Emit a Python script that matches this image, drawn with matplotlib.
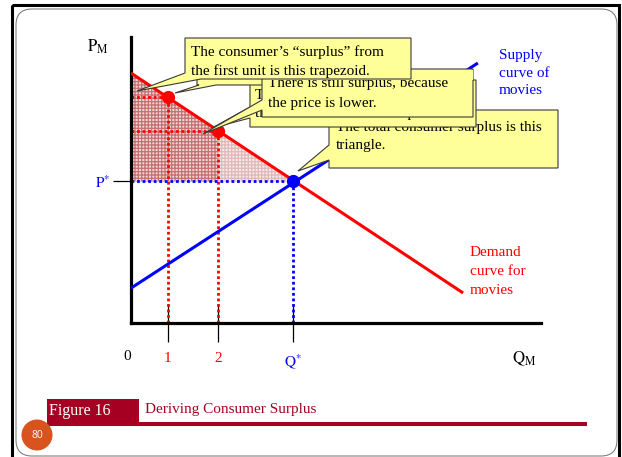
import matplotlib
matplotlib.use('Agg')
import matplotlib.pyplot as plt
import matplotlib.transforms as mtransforms
from matplotlib.patches import Polygon, Rectangle, FancyBboxPatch, Circle

plt.rcParams['font.family'] = ['Liberation Serif', 'DejaVu Serif']
plt.rcParams['mathtext.fontset'] = 'stix'
plt.rcParams['hatch.linewidth'] = 0.9

# ---------------- data (schematic values) ----------------
demand_q = [0.0, 8.10]
demand_p = [8.74, 1.05]
supply_q = [0.0, 8.46]
supply_p = [1.22, 9.09]
unit_q = [0.90, 2.12]          # first and second unit
unit_p = [7.89, 6.73]          # willingness to pay for each unit
eq_q = 3.95                    # Q*
eq_p = 4.95                    # P*
x_tick_labels = ['1', '2', r'$\mathrm{Q}^{*}$']
x_tick_colors = ['#ff0000', '#ff0000', '#0000ff']

W, H = 622, 457
fig = plt.figure(figsize=(W / 100, H / 100), dpi=100)
pix = mtransforms.Affine2D().scale(1 / W, -1 / H).translate(0, 1) + fig.transFigure

ax = fig.add_axes([131 / W, (H - 323) / H, 410 / W, 286 / H])
ax.set_xlim(0, 10)
ax.set_ylim(0, 10)
ax.patch.set_alpha(0)
for s in ['top', 'right']:
    ax.spines[s].set_visible(False)
for s in ['left', 'bottom']:
    ax.spines[s].set_linewidth(2.3)
    ax.spines[s].set_color('black')

RED = '#ff0000'
BLUE = '#0000ff'
FS = 11

# ---------------- slide frame ----------------
ax.add_patch(Rectangle((12, 5), 607, 460, transform=pix, clip_on=False,
                       fill=False, lw=2.2, ec='black', zorder=0))
ax.add_patch(FancyBboxPatch((16, 9), 601, 447, boxstyle='round,pad=0,rounding_size=16',
                            transform=pix, clip_on=False, fill=False, lw=0.8,
                            ec='#808080', zorder=0))

# ---------------- shaded consumer surplus ----------------
dark = [(demand_q[0], demand_p[0]), (unit_q[1], unit_p[1]), (unit_q[1], eq_p), (0, eq_p)]
light = [(unit_q[1], unit_p[1]), (eq_q, eq_p), (unit_q[1], eq_p)]
ax.add_patch(Polygon(dark, closed=True, facecolor='#f2d6d6', edgecolor='#c47070',
                     hatch='+++++', lw=0, zorder=1))
ax.add_patch(Polygon(light, closed=True, facecolor='#f8eaea', edgecolor='#e0b8b8',
                     hatch='+++++', lw=0, zorder=1))

# ---------------- dotted guide lines ----------------
dot = dict(lw=2.0, linestyle=(0, (1, 1)), zorder=2, dash_capstyle='butt')
for q, p in zip(unit_q, unit_p):
    ax.plot([0, q], [p, p], color=RED, **dot)
    ax.plot([q, q], [0, p], color=RED, **dot)
ax.plot([0, eq_q], [eq_p, eq_p], color=BLUE, **dot)
ax.plot([eq_q, eq_q], [0, eq_p], color=BLUE, **dot)

# ---------------- curves ----------------
ax.plot(supply_q, supply_p, color=BLUE, lw=2.2, zorder=3, solid_capstyle='butt')
ax.plot(demand_q, demand_p, color=RED, lw=2.2, zorder=3, solid_capstyle='butt')
ax.plot(unit_q, unit_p, 'o', color=RED, ms=8.5, zorder=4)
ax.plot([eq_q], [eq_p], 'o', color=BLUE, ms=8.5, zorder=4)

# ---------------- ticks ----------------
ax.set_xticks([unit_q[0], unit_q[1], eq_q])
ax.set_xticklabels(x_tick_labels, fontsize=FS)
for lbl, c in zip(ax.get_xticklabels(), x_tick_colors):
    lbl.set_color(c)
ax.tick_params(axis='x', direction='inout', length=28, width=0.9, pad=7)
ax.set_yticks([eq_p])
ax.set_yticklabels([r'$\mathrm{P}^{*}$'], fontsize=FS, color=BLUE)
ax.tick_params(axis='y', direction='out', length=13, width=0.9, pad=2)

ax.text(127, 357, '0', transform=pix, fontsize=FS, ha='center', va='center')
ax.text(98, 47, r'$\mathrm{P}_{\mathrm{M}}$', transform=pix, fontsize=FS + 1,
        ha='center', va='center')
ax.text(524, 359, r'$\mathrm{Q}_{\mathrm{M}}$', transform=pix, fontsize=FS + 1,
        ha='center', va='center')

# curve labels
for i, t in enumerate(['Supply', 'curve of', 'movies']):
    ax.text(499, 56 + 17.5 * i, t, transform=pix, fontsize=FS, color=BLUE,
            ha='left', va='center')
for i, t in enumerate(['Demand', 'curve for', 'movies']):
    ax.text(470, 253 + 18.5 * i, t, transform=pix, fontsize=FS, color=RED,
            ha='left', va='center')

# ---------------- callouts ----------------
YEL = '#ffff99'
EDGE = '#3a3a3a'


def callout(verts, z):
    ax.add_patch(Polygon(verts, closed=True, transform=pix, clip_on=False,
                         facecolor=YEL, edgecolor=EDGE, lw=0.8, zorder=z,
                         joinstyle='miter'))


def lines(x, y0, texts, z, dy=19):
    for i, t in enumerate(texts):
        ax.text(x, y0 + dy * i, t, transform=pix, fontsize=FS, ha='left',
                va='center', zorder=z, clip_on=False)


# D: total surplus (bottom)
callout([(329, 110), (558, 110), (558, 168), (329, 168), (329, 160), (298, 171),
         (329, 145)], 10)
lines(336, 127, ['The total consumer surplus is this', 'triangle.'], 11, dy=18)

# C: second unit (hidden behind B)
callout([(250, 80), (476, 80), (476, 127), (250, 127), (250, 118), (212, 128),
         (250, 107)], 12)
lines(255, 95, ['The consumer’s “surplus” from', 'the second unit is this trapezoid.'], 13)

# H: hidden box behind A
callout([(197, 42), (405, 42), (405, 85), (216, 85), (175, 93), (199, 85),
         (197, 85)], 14)

# B: still surplus
callout([(262, 69), (473, 69), (473, 117), (262, 117), (262, 110), (203, 134),
         (262, 100)], 16)
lines(268, 84, ['There is still surplus, because', 'the price is lower.'], 17)
ax.add_patch(Rectangle((262.6, 69.6), 210, 10.4, transform=pix, clip_on=False,
                       facecolor=YEL, lw=0, zorder=18))

# A: first unit (top)
callout([(185, 38), (411, 38), (411, 79), (201, 79), (137, 91), (185, 73)], 20)
lines(191, 52, ['The consumer’s “surplus” from', 'the first unit is this trapezoid.'], 21)

# ---------------- footer ----------------
ax.add_patch(Rectangle((47, 399), 92, 27, transform=pix, clip_on=False,
                       facecolor='#a50021', lw=0, zorder=5))
ax.add_patch(Rectangle((139, 422), 448, 4, transform=pix, clip_on=False,
                       facecolor='#a50021', lw=0, zorder=5))
ax.text(49, 411, 'Figure 16', transform=pix, fontsize=FS + 0.5, color='white',
        ha='left', va='center', zorder=6)
ax.text(145, 410, 'Deriving Consumer Surplus', transform=pix, fontsize=FS,
        color='#a50021', ha='left', va='center', zorder=6)
ax.add_patch(Circle((37, 435), 15.5, transform=pix, clip_on=False,
                    facecolor='#d9531e', lw=0, zorder=7))
ax.text(37, 435, '80', transform=pix, fontsize=7.5, color='white', ha='center',
        va='center', family='Open Sans', zorder=8)

fig.savefig('out.png', dpi=100)
